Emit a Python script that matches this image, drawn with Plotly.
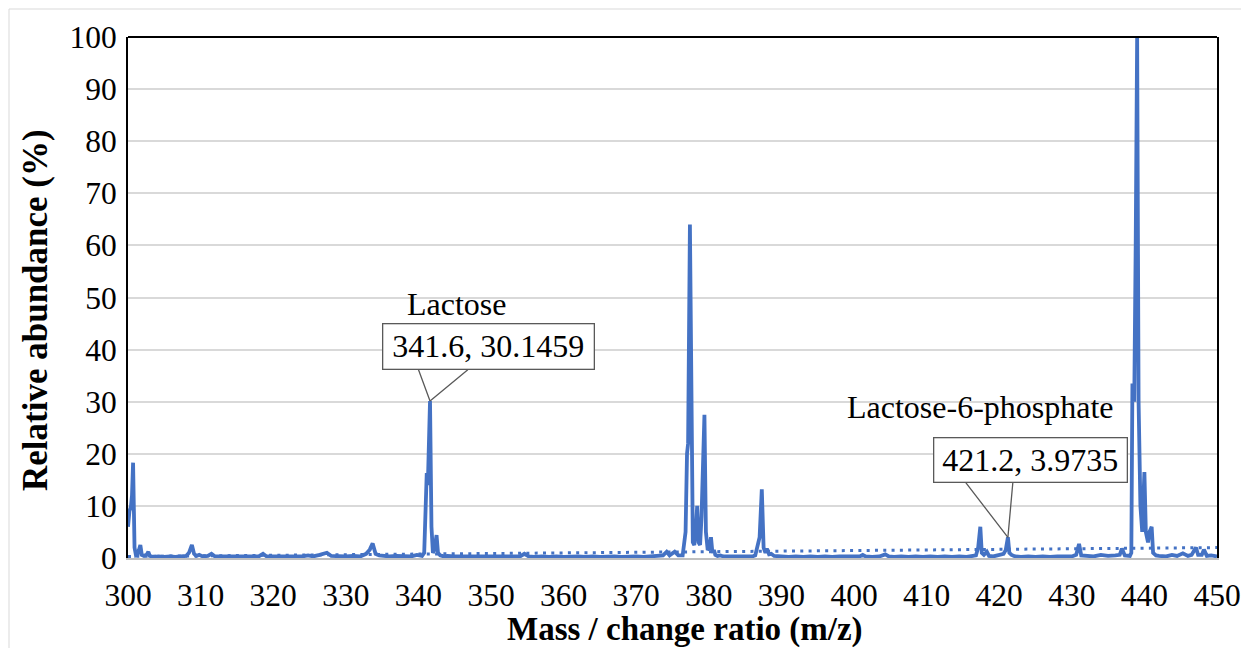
import plotly.graph_objects as go

# ---------------- data ----------------
mz = [
    300.0, 300.2, 300.4, 300.55, 300.7, 300.9, 301.1, 301.3, 301.5, 301.7, 301.9, 302.2, 302.6, 302.8, 303.0,
    303.5, 304.2, 305.0, 305.8, 306.5, 307.3, 308.0, 308.4, 308.8, 309.1, 309.4, 309.8, 310.3, 311.0, 311.5,
    312.0, 313.0, 314.0, 315.0, 316.0, 317.0, 318.0, 318.6, 319.1, 320.0, 321.0, 322.0, 323.0, 324.0, 324.8,
    325.5, 326.4, 327.4, 328.0, 329.0, 330.0, 331.0, 332.0, 332.8, 333.3, 333.7, 334.1, 334.6, 335.2, 336.0,
    337.0, 338.0, 339.0, 339.8, 340.5, 340.8, 341.0, 341.15, 341.3, 341.45, 341.6, 341.8, 342.0, 342.2, 342.5,
    342.7, 343.0, 343.5, 344.0, 345.0, 346.0, 347.0, 348.0, 349.0, 350.0, 351.0, 352.0, 353.0, 354.0, 354.6,
    355.2, 356.0, 357.0, 358.0, 359.0, 360.0, 361.0, 362.0, 363.0, 364.0, 365.0, 366.0, 367.0, 368.0, 369.0,
    370.0, 371.0, 372.0, 373.0, 373.7, 374.2, 374.6, 375.3, 375.8, 376.4, 376.8, 377.0, 377.15, 377.4, 377.6,
    377.8, 378.0, 378.2, 378.4, 378.6, 378.8, 379.0, 379.4, 379.6, 379.85, 380.1, 380.3, 380.5, 380.7, 380.9,
    381.2, 381.6, 382.0, 383.0, 384.0, 385.0, 386.0, 386.4, 386.8, 387.0, 387.3, 387.55, 387.8, 388.0, 388.3,
    388.6, 389.0, 390.0, 391.0, 392.0, 393.0, 394.0, 395.0, 396.0, 397.0, 398.0, 399.0, 400.0, 400.8, 401.2,
    401.6, 402.5, 403.5, 404.3, 404.8, 405.5, 406.5, 407.5, 408.5, 409.5, 410.5, 411.5, 412.5, 413.5, 414.5,
    415.5, 416.3, 416.8, 417.1, 417.4, 417.6, 417.9, 418.3, 418.6, 419.2, 420.0, 420.6, 420.9, 421.2, 421.4,
    421.7, 422.2, 423.0, 424.0, 425.0, 426.0, 427.0, 428.0, 429.0, 430.0, 430.6, 431.0, 431.3, 432.0, 433.0,
    434.0, 435.0, 436.0, 436.6, 436.9, 437.3, 438.0, 438.2, 438.35, 438.6, 438.8, 439.0, 439.2, 439.45, 439.7,
    440.0, 440.2, 440.5, 440.7, 441.0, 441.2, 441.6, 442.0, 443.0, 443.8, 444.5, 445.3, 446.0, 446.5, 447.1,
    447.4, 447.9, 448.2, 448.6, 449.2, 450.0,
]
abundance = [
    6.0, 9.0, 9.8, 12.0, 18.3, 2.0, 0.5, 0.6, 1.5, 2.5, 0.6, 0.4, 0.7, 1.2, 0.4,
    0.2, 0.3, 0.2, 0.3, 0.2, 0.3, 0.4, 1.0, 2.5, 0.8, 0.4, 0.6, 0.3, 0.4, 0.8,
    0.3, 0.3, 0.2, 0.3, 0.2, 0.3, 0.3, 0.8, 0.3, 0.3, 0.3, 0.4, 0.3, 0.3, 0.5,
    0.3, 0.6, 1.0, 0.4, 0.3, 0.3, 0.4, 0.3, 0.8, 1.6, 2.8, 0.8, 0.5, 0.4, 0.3,
    0.4, 0.3, 0.3, 0.6, 0.4, 1.0, 10.0, 16.3, 14.0, 22.0, 30.1459, 6.0, 1.0, 1.5, 4.4,
    1.0, 0.5, 0.3, 0.4, 0.3, 0.3, 0.2, 0.3, 0.3, 0.3, 0.2, 0.3, 0.3, 0.3, 0.8,
    0.3, 0.2, 0.3, 0.2, 0.3, 0.2, 0.3, 0.3, 0.2, 0.3, 0.2, 0.3, 0.3, 0.2, 0.3,
    0.3, 0.2, 0.3, 0.3, 0.5, 1.2, 0.5, 1.2, 0.5, 0.5, 5.0, 20.0, 22.0, 64.0, 20.0,
    3.0, 2.5, 5.0, 10.0, 3.0, 2.5, 8.0, 27.5, 5.0, 1.5, 2.0, 4.0, 1.0, 1.5, 0.6,
    0.4, 0.5, 0.3, 0.3, 0.2, 0.3, 0.3, 0.5, 3.5, 4.0, 13.2, 2.0, 1.0, 1.8, 0.7,
    0.8, 0.4, 0.3, 0.2, 0.3, 0.2, 0.3, 0.2, 0.3, 0.2, 0.3, 0.3, 0.2, 0.3, 0.6,
    0.3, 0.2, 0.3, 0.7, 0.3, 0.2, 0.3, 0.2, 0.3, 0.2, 0.3, 0.2, 0.3, 0.2, 0.3,
    0.2, 0.3, 0.5, 2.0, 6.0, 1.0, 0.6, 1.2, 0.4, 0.3, 0.5, 0.8, 1.5, 3.9735, 1.0,
    0.6, 0.3, 0.2, 0.3, 0.2, 0.3, 0.2, 0.3, 0.3, 0.3, 0.6, 2.7, 0.5, 0.4, 0.3,
    0.6, 0.4, 0.5, 0.6, 1.8, 0.5, 0.4, 1.0, 33.5, 30.0, 60.0, 100.0, 30.0, 10.0, 5.0,
    16.5, 5.0, 3.0, 5.0, 6.0, 1.0, 0.5, 0.4, 0.3, 0.6, 0.4, 0.9, 0.4, 0.6, 2.0,
    0.6, 0.6, 1.6, 0.4, 0.5, 0.3,
]

# linear trendline end points (dotted)
trend_mz = [300, 450]
trend_abundance = [0.3, 2.0]

# labelled peaks
label_names = ["Lactose", "Lactose-6-phosphate"]
label_mz = [341.6, 421.2]
label_abundance = [30.1459, 3.9735]

x_ticks = list(range(300, 451, 10))
y_ticks = list(range(0, 101, 10))

x_title = "Mass / change ratio (m/z)"
y_title = "Relative abundance (%)"

BLUE = "#4472C4"
FONT = "Liberation Serif"

# the page body has an 8px margin; figure sized so it fits the 1249x656 window
W, H = 1233, 640
ML, MR, MT, MB = 120, 24, 29, 90
PW, PH = W - ML - MR, H - MT - MB


def px_x(page_x):
    """page pixel x -> paper coordinate"""
    return (page_x - 8 - ML) / PW


def px_y(page_y):
    """page pixel y -> paper coordinate"""
    return (PH - (page_y - 8 - MT)) / PH


fig = go.Figure()
fig.add_trace(go.Scatter(x=mz, y=abundance, mode="lines",
                         line=dict(color=BLUE, width=3.8), hoverinfo="x+y"))
fig.add_trace(go.Scatter(x=trend_mz, y=trend_abundance, mode="lines",
                         line=dict(color=BLUE, width=3, dash="3px,5.3px"), hoverinfo="skip"))

# ---------------- callouts ----------------
callouts = [
    dict(shift=(58, 54.2), size=(204, 38), wedge=[(-11.7, -31.6), (38.3, -31.6)], lab=(27, 97)),
    dict(shift=(22.4, 77.6), size=(186, 37), wedge=[(-42.9, -55.6), (5.0, -55.6)], lab=(-27, 130)),
]
for name, x, y, c in zip(label_names, label_mz, label_abundance, callouts):
    for ax, ay in c["wedge"]:
        fig.add_annotation(x=x, y=y, xref="x", yref="y", text="", showarrow=True,
                           ax=ax, ay=ay, arrowhead=0, arrowwidth=1.3, arrowcolor="#595959",
                           borderpad=0, standoff=0, startstandoff=0)
    fig.add_annotation(x=x, y=y, xref="x", yref="y", text=f"{x:g}, {y:g}",
                       showarrow=False, xshift=c["shift"][0], yshift=c["shift"][1],
                       width=c["size"][0], height=c["size"][1], align="center", valign="middle",
                       bgcolor="white", bordercolor="#595959", borderwidth=1.3, borderpad=3,
                       font=dict(family=FONT, size=32, color="black"))
    fig.add_annotation(x=x, y=y, xref="x", yref="y", text=name, showarrow=False,
                       xshift=c["lab"][0], yshift=c["lab"][1],
                       font=dict(family=FONT, size=32, color="black"))

# axis titles
fig.add_annotation(text=f"<b>{y_title}</b>", xref="paper", yref="paper",
                   x=px_x(35), y=px_y(310), textangle=-90, showarrow=False,
                   xanchor="center", yanchor="middle",
                   font=dict(family=FONT, size=35, color="black"))
fig.add_annotation(text=f"<b>{x_title}</b>", xref="paper", yref="paper",
                   x=px_x(685), y=px_y(629), showarrow=False,
                   xanchor="center", yanchor="middle",
                   font=dict(family=FONT, size=33, color="black"))

# frame: top black line and light outer chart border
fig.add_shape(type="line", xref="paper", yref="paper", x0=0, x1=1, y0=1, y1=1,
              line=dict(color="black", width=2))
fig.add_shape(type="rect", xref="paper", yref="paper",
              x0=px_x(9), x1=px_x(1270), y0=px_y(680), y1=px_y(9),
              line=dict(color="#d9d9d9", width=1), layer="below")

fig.update_layout(
    width=W, height=H,
    margin=dict(l=ML, r=MR, t=MT, b=MB, autoexpand=False),
    paper_bgcolor="white", plot_bgcolor="white",
    showlegend=False,
    font=dict(family=FONT, color="black"),
)
fig.update_xaxes(range=[300, 450], tickvals=x_ticks, ticks="", showgrid=False,
                 showline=True, linecolor="#bfbfbf", linewidth=2,
                 tickfont=dict(family=FONT, size=31.5, color="black"), ticklabelstandoff=8,
                 zeroline=False)
fig.update_yaxes(range=[0, 100], tickvals=y_ticks, ticks="", showgrid=True,
                 gridcolor="#d9d9d9", gridwidth=1.8,
                 showline=True, linecolor="black", linewidth=2, mirror=True,
                 tickfont=dict(family=FONT, size=31.5, color="black"), ticklabelstandoff=3,
                 zeroline=False)

fig.write_html("out.html")
